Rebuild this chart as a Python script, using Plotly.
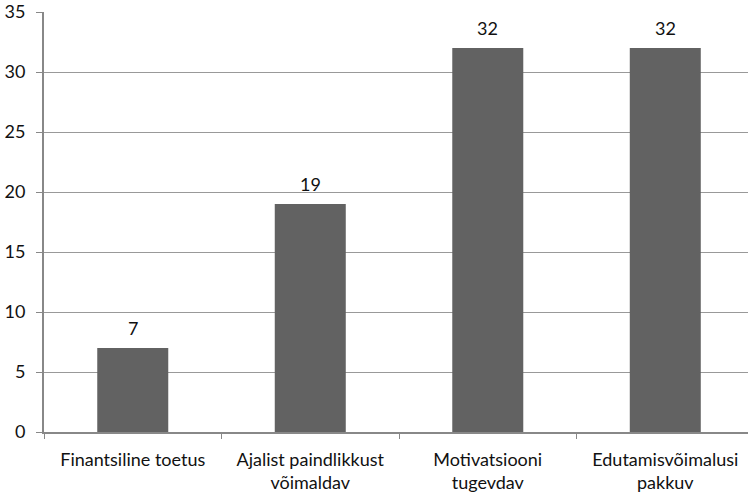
import plotly.graph_objects as go

categories = ["Finantsiline toetus", "Ajalist paindlikkust<br>võimaldav",
              "Motivatsiooni<br>tugevdav", "Edutamisvõimalusi<br>pakkuv"]
values = [7, 19, 32, 32]
y_ticks = [0, 5, 10, 15, 20, 25, 30, 35]

fig = go.Figure(go.Bar(
    x=categories, y=values,
    marker=dict(color="#626262", line=dict(width=0)),
))
for c, v in zip(categories, values):
    fig.add_annotation(x=c, y=v, text=str(v), showarrow=False,
                       yanchor="middle", yshift=20,
                       font=dict(size=18, color="#111"))
fig.update_layout(
    width=748, height=492,
    margin=dict(l=44, r=0, t=12, b=60),
    paper_bgcolor="white", plot_bgcolor="white",
    bargap=0.6, showlegend=False,
    font=dict(family="Lato, sans-serif", size=18, color="#111"),
)
fig.update_xaxes(
    range=[-0.5, 3.466], tickson="boundaries", ticks="outside", ticklen=5,
    tickcolor="#888", showline=True, linecolor="#888", linewidth=2,
    showgrid=False, tickfont=dict(size=18), ticklabelstandoff=10,
)
fig.update_yaxes(
    range=[0, 35], tickvals=y_ticks, ticks="outside", ticklen=6, tickcolor="#888",
    showline=True, linecolor="#888", linewidth=2, gridcolor="#999", gridwidth=1,
    zeroline=False, tickfont=dict(size=18), ticklabelstandoff=7,
)
fig.write_html("out.html", config={"displayModeBar": False},
               post_script="document.body.style.margin='0';")
